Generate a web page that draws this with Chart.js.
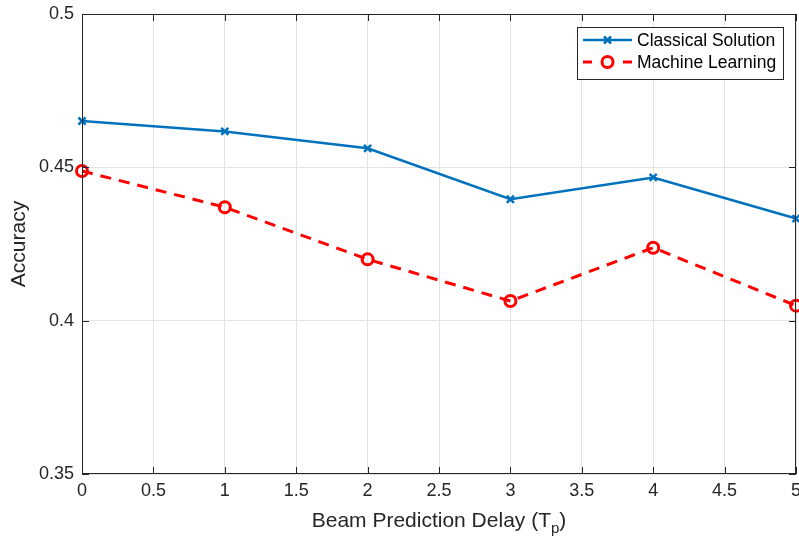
<!DOCTYPE html>
<html>
<head>
<meta charset="utf-8">
<script src="https://cdn.jsdelivr.net/npm/chart.js@4"></script>
<style>
  html, body { margin: 0; padding: 0; background: #fff; }
  #wrap { width: 799px; height: 540px; }
</style>
</head>
<body>
<div id="wrap"><canvas id="plot" width="799" height="540"></canvas></div>
<script>
const delays = [0, 1, 2, 3, 4, 5];
const classical = [0.4651, 0.4617, 0.4562, 0.4396, 0.4467, 0.4333];
const machineLearning = [0.4488, 0.4370, 0.4200, 0.4064, 0.4238, 0.4049];
const seriesNames = ["Classical Solution", "Machine Learning"];
const xTitle = "Beam Prediction Delay (T";
const xTitleSub = "p";
const yTitle = "Accuracy";

const tickFont = "'Liberation Sans Narrow', 'Liberation Sans', Arial, sans-serif";
const legendFont = "'Liberation Sans', Arial, sans-serif";

const toPoints = ys => delays.map((x, i) => ({ x: x, y: ys[i] }));
const fmt = v => String(Math.round(v * 100) / 100);

// inward tick marks on all four sides, like the matlab box
const boxTicks = {
  id: "boxTicks",
  afterDatasetsDraw(chart) {
    const { ctx, chartArea: a, scales } = chart;
    ctx.save();
    ctx.strokeStyle = "#262626";
    ctx.lineWidth = 1;
    ctx.beginPath();
    scales.x.ticks.forEach(t => {
      const px = Math.round(scales.x.getPixelForValue(t.value)) + 0.5;
      ctx.moveTo(px, a.bottom); ctx.lineTo(px, a.bottom - 7);
      ctx.moveTo(px, a.top); ctx.lineTo(px, a.top + 7);
    });
    scales.y.ticks.forEach(t => {
      const py = Math.round(scales.y.getPixelForValue(t.value)) + 0.5;
      ctx.moveTo(a.left, py); ctx.lineTo(a.left + 7, py);
      ctx.moveTo(a.right, py); ctx.lineTo(a.right - 7, py);
    });
    ctx.stroke();
    ctx.strokeRect(a.left + 0.5, a.top + 0.5, a.right - a.left - 1, a.bottom - a.top - 1);
    ctx.restore();
  }
};

// x title with subscript, and the boxed legend in the top-right corner
const extras = {
  id: "extras",
  afterDraw(chart) {
    const { ctx, chartArea: a } = chart;
    ctx.save();
    ctx.fillStyle = "#262626";
    ctx.textBaseline = "alphabetic";
    ctx.font = "21px " + tickFont;
    const mainW = ctx.measureText(xTitle).width;
    ctx.font = "15px " + tickFont;
    const subW = ctx.measureText(xTitleSub).width;
    ctx.font = "21px " + tickFont;
    const closeW = ctx.measureText(")").width;
    const cx = (a.left + a.right) / 2;
    let x0 = cx - (mainW + subW + closeW) / 2;
    const base = 527;
    ctx.textAlign = "left";
    ctx.fillText(xTitle, x0, base);
    ctx.font = "15px " + tickFont;
    ctx.fillText(xTitleSub, x0 + mainW, base + 6);
    ctx.font = "21px " + tickFont;
    ctx.fillText(")", x0 + mainW + subW, base);

    // legend
    const bx = 577.5, by = 27.5, bw = 206, bh = 52;
    ctx.fillStyle = "#fff";
    ctx.fillRect(bx, by, bw, bh);
    ctx.strokeStyle = "#262626";
    ctx.lineWidth = 1;
    ctx.strokeRect(bx, by, bw, bh);
    const rows = [40, 62];
    chart.data.datasets.forEach((ds, i) => {
      const y = rows[i];
      ctx.save();
      ctx.strokeStyle = ds.borderColor;
      ctx.lineWidth = ds.borderWidth;
      ctx.beginPath();
      if (ds.borderDash) {
        ctx.moveTo(583, y); ctx.lineTo(592, y);
        ctx.moveTo(623, y); ctx.lineTo(632, y);
      } else {
        ctx.moveTo(583, y); ctx.lineTo(632, y);
      }
      ctx.stroke();
      ctx.lineWidth = ds.pointBorderWidth;
      ctx.strokeStyle = ds.pointBorderColor;
      ctx.beginPath();
      if (ds.pointStyle === "crossRot") {
        const r = ds.pointRadius * 0.7;
        ctx.moveTo(607.5 - r, y - r); ctx.lineTo(607.5 + r, y + r);
        ctx.moveTo(607.5 - r, y + r); ctx.lineTo(607.5 + r, y - r);
      } else {
        ctx.arc(607.5, y, ds.pointRadius, 0, Math.PI * 2);
      }
      ctx.stroke();
      ctx.restore();
      ctx.fillStyle = "#000";
      ctx.font = "17.5px " + legendFont;
      ctx.textAlign = "left";
      ctx.textBaseline = "middle";
      ctx.fillText(seriesNames[i], 637, y + 1);
    });
    ctx.restore();
  }
};

new Chart(document.getElementById("plot"), {
  type: "line",
  data: {
    datasets: [
      {
        label: seriesNames[0],
        data: toPoints(classical),
        borderColor: "#0072BD",
        borderWidth: 2.5,
        pointStyle: "crossRot",
        pointRadius: 5,
        pointBorderWidth: 2.5,
        pointBorderColor: "#0072BD",
        pointBackgroundColor: "#0072BD",
        tension: 0,
        fill: false
      },
      {
        label: seriesNames[1],
        data: toPoints(machineLearning),
        borderColor: "#FF0000",
        borderWidth: 3,
        borderDash: [11, 8],
        pointStyle: "circle",
        pointRadius: 5.5,
        pointBorderWidth: 3,
        pointBorderColor: "#FF0000",
        pointBackgroundColor: "rgba(255,255,255,0)",
        tension: 0,
        fill: false
      }
    ]
  },
  options: {
    responsive: false,
    animation: false,
    clip: false,
    layout: { autoPadding: false, padding: { top: 14, right: 3, left: 0, bottom: 0 } },
    plugins: {
      legend: { display: false },
      tooltip: { enabled: false }
    },
    scales: {
      x: {
        type: "linear",
        min: 0,
        max: 5,
        ticks: {
          stepSize: 0.5,
          color: "#262626",
          padding: 6,
          font: { family: tickFont, size: 18 },
          callback: fmt
        },
        grid: { color: "#e3e3e3", lineWidth: 1, drawTicks: false },
        border: { display: false },
        afterFit(s) { s.height = 66; s.paddingLeft = 0; s.paddingRight = 0; }
      },
      y: {
        type: "linear",
        min: 0.35,
        max: 0.5,
        ticks: {
          stepSize: 0.05,
          color: "#262626",
          padding: 8,
          font: { family: tickFont, size: 18 },
          callback: fmt
        },
        grid: { color: "#e3e3e3", lineWidth: 1, drawTicks: false },
        border: { display: false },
        title: {
          display: true,
          text: yTitle,
          color: "#262626",
          padding: { top: 7, bottom: 0 },
          font: { family: tickFont, size: 21 }
        },
        afterFit(s) { s.width = 82; s.paddingTop = 0; s.paddingBottom = 0; }
      }
    }
  },
  plugins: [boxTicks, extras]
});
</script>
</body>
</html>
